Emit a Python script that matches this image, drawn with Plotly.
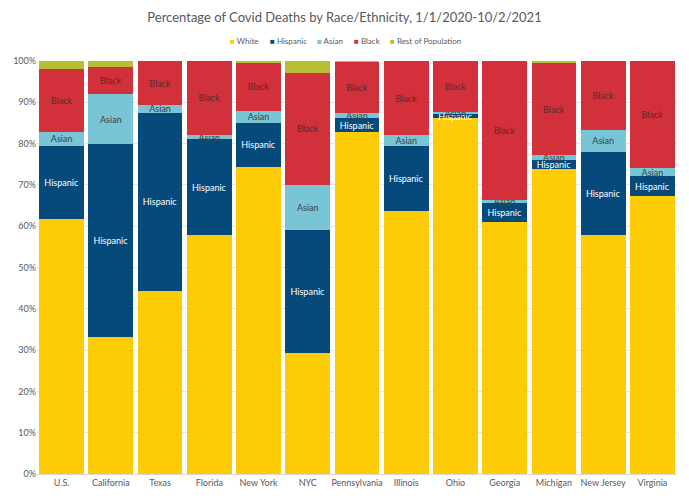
import plotly.graph_objects as go

categories = ["U.S.", "California", "Texas", "Florida", "New York", "NYC", "Pennsylvania",
              "Illinois", "Ohio", "Georgia", "Michigan", "New Jersey", "Virginia"]

white =    [61.8, 33.1, 44.3, 57.9, 74.3, 29.2, 82.7, 63.6, 86.2, 61.0, 73.8, 57.8, 67.3]
hispanic = [17.7, 46.7, 43.2, 23.1, 10.8, 29.8,  3.4, 15.8,  0.9,  4.6,  2.3, 20.2,  4.8]
asian =    [ 3.4, 12.1,  1.8,  1.1,  2.7, 11.0,  1.4,  2.6,  0.6,  0.7,  1.1,  5.4,  2.0]
black =    [15.2,  6.7, 10.7, 17.9, 11.9, 27.2, 12.3, 18.0, 12.3, 33.7, 22.2, 16.6, 25.9]
rest =     [ 1.9,  1.4,  0.0,  0.0,  0.3,  2.8,  0.2,  0.0,  0.0,  0.0,  0.6,  0.0,  0.0]

series = [
    ("White", white, "#FECC07", None, None),
    ("Hispanic", hispanic, "#054A7A", "Hispanic", "#FFFFFF"),
    ("Asian", asian, "#78C5D6", "Asian", "#404040"),
    ("Black", black, "#D2303A", "Black", "#5A2A2E"),
    ("Rest of Population", rest, "#B8BE34", None, None),
]

FONT = "Lato"
fig = go.Figure()
for name, vals, color, label, tcolor in series:
    if label:
        kw = dict(text=[label] * len(vals), textposition="inside", insidetextanchor="middle",
                  textfont=dict(color=tcolor, size=9, family=FONT), textangle=0)
    else:
        kw = dict(textposition="none")
    fig.add_trace(go.Bar(name=name, x=categories, y=vals, marker=dict(color=color, line=dict(width=0)),
                         hoverinfo="x+y+name", showlegend=False, **kw))

# manual compact legend (as in the reference)
legend_x_px = [228, 268, 315, 352, 388]
annotations = []
for (name, _, color, _, _), px in zip(series, legend_x_px):
    annotations.append(dict(
        xref="paper", yref="paper", x=(px - 37) / 640, y=1 + 20 / 415,
        xanchor="left", yanchor="middle", showarrow=False,
        text=f"<span style='color:{color}'>■</span> {name}",
        font=dict(size=8, color="#595959", family=FONT)))

fig.update_layout(
    barmode="stack",
    bargap=0.09,
    width=689, height=500,
    margin=dict(l=37, r=12, t=61, b=24),
    paper_bgcolor="white", plot_bgcolor="white",
    font=dict(family=FONT, color="#595959", size=9),
    title=dict(text="Percentage of Covid Deaths by Race/Ethnicity, 1/1/2020-10/2/2021",
               x=0.5, xanchor="center", y=1 - 17 / 500, yanchor="middle",
               font=dict(size=13, color="#595959", family=FONT)),
    uniformtext=dict(minsize=9, mode="show"),
    annotations=annotations,
)
fig.update_yaxes(range=[0, 100], dtick=10, ticksuffix="%", showgrid=True, gridcolor="#E4E4E4",
                 gridwidth=1, zeroline=False, tickfont=dict(size=9, color="#595959"), ticks="")
fig.update_xaxes(showline=True, linecolor="#D9D9D9", linewidth=1, tickfont=dict(size=9, color="#595959"),
                 ticks="")

fig.write_html("out.html")
